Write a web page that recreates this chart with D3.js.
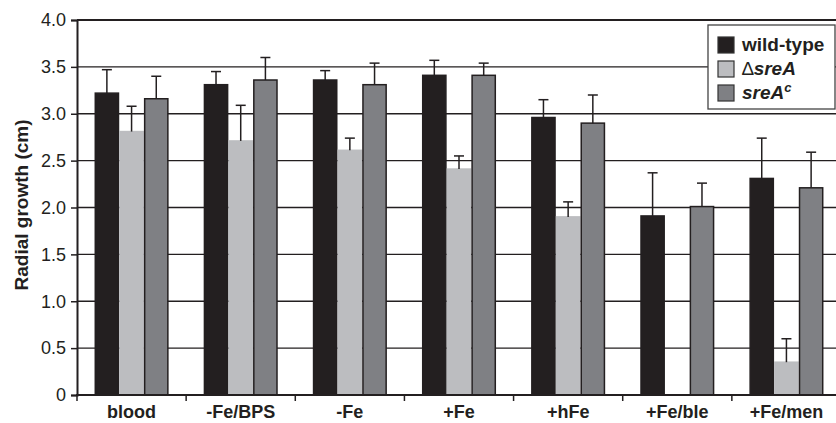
<!DOCTYPE html>
<html>
<head>
<meta charset="utf-8">
<script src="https://cdn.jsdelivr.net/npm/d3@7"></script>
<style>
  body { margin: 0; background: #fff; }
  svg { display: block; font-family: "Liberation Sans", Arial, Helvetica, sans-serif; }
</style>
</head>
<body>
<div id="chart"></div>
<script>
// data
const categories = ["blood", "-Fe/BPS", "-Fe", "+Fe", "+hFe", "+Fe/ble", "+Fe/men"];
const seriesNames = ["wild-type", "dsreA", "sreAc"];
const wildType    = [3.22, 3.31, 3.36, 3.41, 2.96, 1.91, 2.31];
const wildTypeErr = [3.47, 3.45, 3.46, 3.57, 3.15, 2.37, 2.74];
const deltaSreA    = [2.81, 2.71, 2.61, 2.41, 1.90, 0, 0.35];
const deltaSreAErr = [3.08, 3.09, 2.74, 2.55, 2.06, null, 0.60];
const sreAc    = [3.16, 3.36, 3.31, 3.41, 2.90, 2.01, 2.21];
const sreAcErr = [3.40, 3.60, 3.54, 3.54, 3.20, 2.26, 2.59];
const yTicks = [0, 0.5, 1.0, 1.5, 2.0, 2.5, 3.0, 3.5, 4.0];
const yTickLabels = ["0", "0.5", "1.0", "1.5", "2.0", "2.5", "3.0", "3.5", "4.0"];

const colors = ["#231f20", "#bcbdc0", "#7f8084"];
const strokes = ["#231f20", "#bcbdc0", "#231f20"];

const width = 836, height = 423;
const plotLeft = 77, plotRight = 841, plotTop = 20, plotBottom = 395;

const svg = d3.select("#chart").append("svg")
    .attr("width", width)
    .attr("height", height);

const x = d3.scaleBand().domain(categories).range([plotLeft, plotRight]).padding(0);
const xInner = d3.scaleBand().domain(seriesNames).range([0, x.bandwidth()])
    .paddingInner(0).paddingOuter(0.71);
const y = d3.scaleLinear().domain([0, 4]).range([plotBottom, plotTop]);

// gridlines
svg.append("g").selectAll("line").data(yTicks.filter(d => d > 0)).join("line")
    .attr("x1", plotLeft).attr("x2", plotRight)
    .attr("y1", d => y(d)).attr("y2", d => y(d))
    .attr("stroke", "#231f20")
    .attr("stroke-width", d => d === 4 ? 2 : 1.3);

// bars
const rows = [];
const vals = [wildType, deltaSreA, sreAc];
const errs = [wildTypeErr, deltaSreAErr, sreAcErr];
categories.forEach((c, i) => {
    seriesNames.forEach((s, j) => {
        rows.push({ cat: c, ser: s, j: j, v: vals[j][i], e: errs[j][i] });
    });
});

const bars = svg.append("g");
bars.selectAll("rect").data(rows.filter(d => d.v > 0)).join("rect")
    .attr("x", d => x(d.cat) + xInner(d.ser) + 0.75)
    .attr("y", d => y(d.v))
    .attr("width", xInner.bandwidth() - 1.5)
    .attr("height", d => y(0) - y(d.v))
    .attr("fill", d => colors[d.j])
    .attr("stroke", d => strokes[d.j])
    .attr("stroke-width", 1.5);

// error bars
const errG = svg.append("g").attr("stroke", "#231f20").attr("stroke-width", 1.5);
const withErr = rows.filter(d => d.e != null);
errG.selectAll("line.v").data(withErr).join("line").attr("class", "v")
    .attr("x1", d => x(d.cat) + xInner(d.ser) + xInner.bandwidth() / 2)
    .attr("x2", d => x(d.cat) + xInner(d.ser) + xInner.bandwidth() / 2)
    .attr("y1", d => y(d.v)).attr("y2", d => y(d.e));
errG.selectAll("line.c").data(withErr).join("line").attr("class", "c")
    .attr("x1", d => x(d.cat) + xInner(d.ser) + xInner.bandwidth() / 2 - 5)
    .attr("x2", d => x(d.cat) + xInner(d.ser) + xInner.bandwidth() / 2 + 5)
    .attr("y1", d => y(d.e)).attr("y2", d => y(d.e));

// y axis
const yAxis = svg.append("g").attr("transform", `translate(${plotLeft},0)`)
    .call(d3.axisLeft(y).tickValues(yTicks).tickSize(6).tickPadding(5)
        .tickFormat((d, i) => yTickLabels[i]));
yAxis.select(".domain").attr("stroke", "#231f20").attr("stroke-width", 2);
yAxis.selectAll(".tick line").attr("stroke", "#231f20").attr("stroke-width", 1.5);
yAxis.selectAll(".tick text").attr("font-size", 18).attr("fill", "#231f20")
    .attr("font-family", "Liberation Sans, Arial, sans-serif");

// x axis
const xAxis = svg.append("g").attr("transform", `translate(0,${plotBottom})`);
xAxis.append("line").attr("x1", plotLeft - 1).attr("x2", plotRight)
    .attr("stroke", "#231f20").attr("stroke-width", 2);
xAxis.selectAll("line.tk").data(categories).join("line").attr("class", "tk")
    .attr("x1", d => x(d)).attr("x2", d => x(d))
    .attr("y1", 0).attr("y2", 6)
    .attr("stroke", "#231f20").attr("stroke-width", 1.5);
xAxis.selectAll("text").data(categories).join("text")
    .attr("x", d => x(d) + x.bandwidth() / 2)
    .attr("y", 23)
    .attr("text-anchor", "middle")
    .attr("font-size", 18).attr("font-weight", "bold").attr("fill", "#231f20")
    .text(d => d);

// axis title
svg.append("text")
    .attr("transform", "translate(28,205) rotate(-90)")
    .attr("text-anchor", "middle")
    .attr("font-size", 19).attr("font-weight", "bold").attr("fill", "#231f20")
    .text("Radial growth (cm)");

// legend
const lg = svg.append("g").attr("transform", "translate(708,25)");
lg.append("rect").attr("width", 127).attr("height", 84)
    .attr("fill", "#fff").attr("stroke", "#444").attr("stroke-width", 1.3);
seriesNames.forEach((s, j) => {
    const row = lg.append("g").attr("transform", `translate(10,${12 + j * 24})`);
    row.append("rect").attr("width", 16).attr("height", 16)
        .attr("fill", colors[j]).attr("stroke", "#333").attr("stroke-width", 1.2);
    const t = row.append("text").attr("x", 24).attr("y", 14)
        .attr("font-size", 19).attr("font-weight", "bold").attr("fill", "#231f20");
    if (j === 0) {
        t.text("wild-type");
    } else if (j === 1) {
        t.append("tspan").attr("font-weight", "normal").text("\u2206");
        t.append("tspan").attr("font-style", "italic").text("sreA");
    } else {
        t.append("tspan").attr("font-style", "italic").text("sreA");
        t.append("tspan").attr("font-style", "italic").attr("font-size", 13)
            .attr("dy", -7).text("c");
    }
});
</script>
</body>
</html>
